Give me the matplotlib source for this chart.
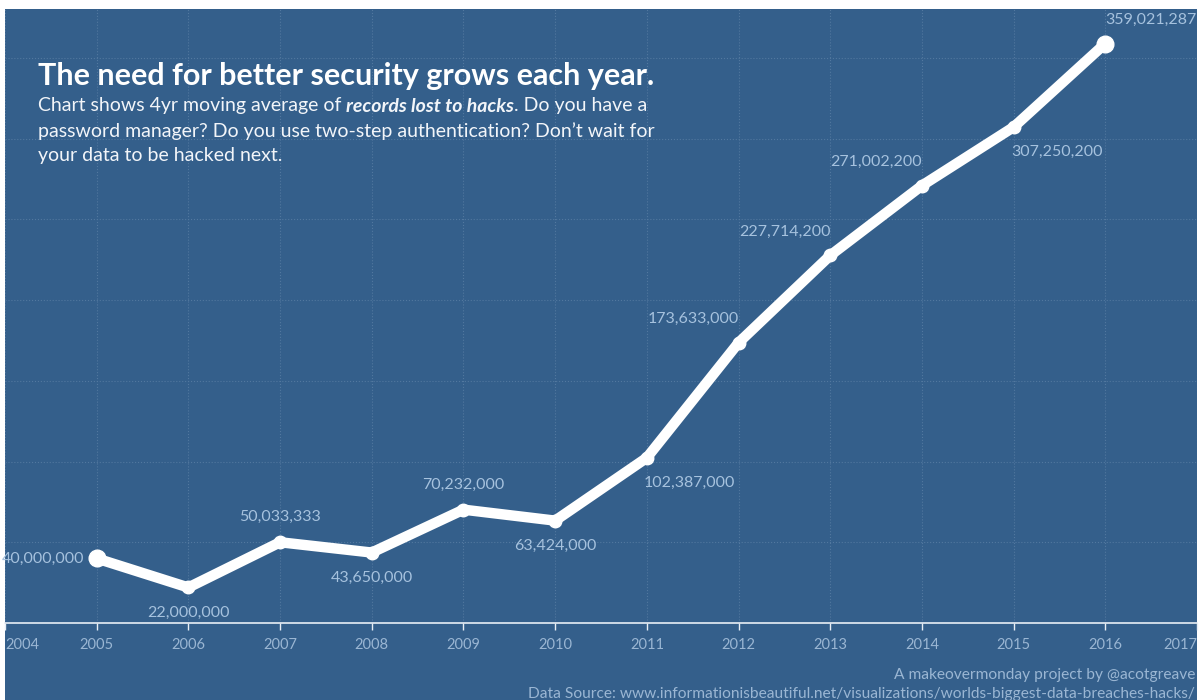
import matplotlib
matplotlib.use("Agg")
import matplotlib.pyplot as plt
from matplotlib.patches import Rectangle
from matplotlib.ticker import FixedLocator

plt.rcParams['font.family'] = ['Lato', 'DejaVu Sans']

years = [2005, 2006, 2007, 2008, 2009, 2010, 2011, 2012, 2013, 2014, 2015, 2016]
records = [40000000, 22000000, 50033333, 43650000, 70232000, 63424000,
           102387000, 173633000, 227714200, 271002200, 307250200, 359021287]
# where each value label sits relative to its point
label_pos = ['left', 'below', 'above', 'below', 'above', 'below',
             'below_r', 'above_l', 'above_l', 'above_l', 'below_r', 'above_r']
tick_years = list(range(2004, 2018))

bg = '#345f8b'
label_col = '#a6c2de'
tick_col = '#9ab6d3'
grid_col = '#52789f'

W, H = 1203, 700
fig = plt.figure(figsize=(W / 100, H / 100), dpi=100, facecolor='white')
fig.patches.append(Rectangle((5 / W, 0), 1192 / W, 691 / H, transform=fig.transFigure,
                             facecolor=bg, edgecolor='none', zorder=-10))

ax = fig.add_axes([5 / W, 77 / H, 1192 / W, 614 / H])
ax.set_facecolor(bg)
ax.set_xlim(2004, 2017)
ax.set_ylim(0, 380.4e6)

for s in ['top', 'right', 'left']:
    ax.spines[s].set_visible(False)
ax.spines['bottom'].set_color('#e8eef5')
ax.spines['bottom'].set_linewidth(1.2)

ax.set_xticks(tick_years)
ax.set_xticklabels([str(y) for y in tick_years])
ax.tick_params(axis='x', colors='#e8eef5', labelcolor=tick_col, labelsize=10.5,
               length=5, width=1, pad=6)
labs = ax.get_xticklabels()
labs[0].set_horizontalalignment('left')
labs[-1].set_horizontalalignment('right')
ax.set_yticks([])
ax.yaxis.set_minor_locator(FixedLocator([50e6 * i for i in range(1, 8)]))
ax.tick_params(axis='y', which='minor', length=0)
ax.grid(True, axis='x', color=grid_col, linestyle=':', linewidth=0.8)
ax.grid(True, axis='y', which='minor', color=grid_col, linestyle=':', linewidth=0.8)
ax.set_axisbelow(True)

ax.plot(years, records, color='white', linewidth=7.5, solid_capstyle='round',
        solid_joinstyle='round', marker='o', markersize=9, zorder=3)
ax.plot(years[0], records[0], 'o', color='white', markersize=12, zorder=4)
ax.plot(years[-1], records[-1], 'o', color='white', markersize=12, zorder=4)

offsets = {
    'left': (-9, 0, 'right', 'center'),
    'below': (0, -13, 'center', 'top'),
    'above': (0, 13, 'center', 'bottom'),
    'below_r': (-2, -13, 'left', 'top'),
    'above_l': (0, 12, 'right', 'bottom'),
    'above_r': (0, 12, 'left', 'bottom'),
}
for x, v, p in zip(years, records, label_pos):
    dx, dy, ha, va = offsets[p]
    ax.annotate(f"{v:,}", (x, v), xytext=(dx, dy), textcoords='offset points',
                ha=ha, va=va, color=label_col, fontsize=11.5, zorder=5)

# title block
fig.text(38 / W, 1 - 76 / H, "The need for better security grows each year.",
         color='white', fontsize=22, fontweight='bold', va='center', ha='left')

lines = [
    [("Chart shows 4yr moving average of ", {}),
     ("records lost to hacks", {'fontweight': 'bold', 'fontstyle': 'italic'}),
     (". Do you have a", {})],
    [("password manager? Do you use two-step authentication? Don\u2019t wait for", {})],
    [("your data to be hacked next.", {})],
]
fig.canvas.draw()
renderer = fig.canvas.get_renderer()
for i, parts in enumerate(lines):
    xpix = 38
    ypix = 106 + i * 25
    for txt, kw in parts:
        t = fig.text(xpix / W, 1 - ypix / H, txt, color='#f2f5f9', fontsize=14,
                     va='center', ha='left', **kw)
        xpix += t.get_window_extent(renderer).width

fig.text(1195 / W, 1 - 675 / H, "A makeovermonday project by @acotgreave",
         color=tick_col, fontsize=11.2, ha='right', va='center')
fig.text(1195 / W, 1 - 694 / H,
         "Data Source: www.informationisbeautiful.net/visualizations/worlds-biggest-data-breaches-hacks/",
         color=tick_col, fontsize=11.2, ha='right', va='center')

fig.savefig('out.png', dpi=100, facecolor='white')
